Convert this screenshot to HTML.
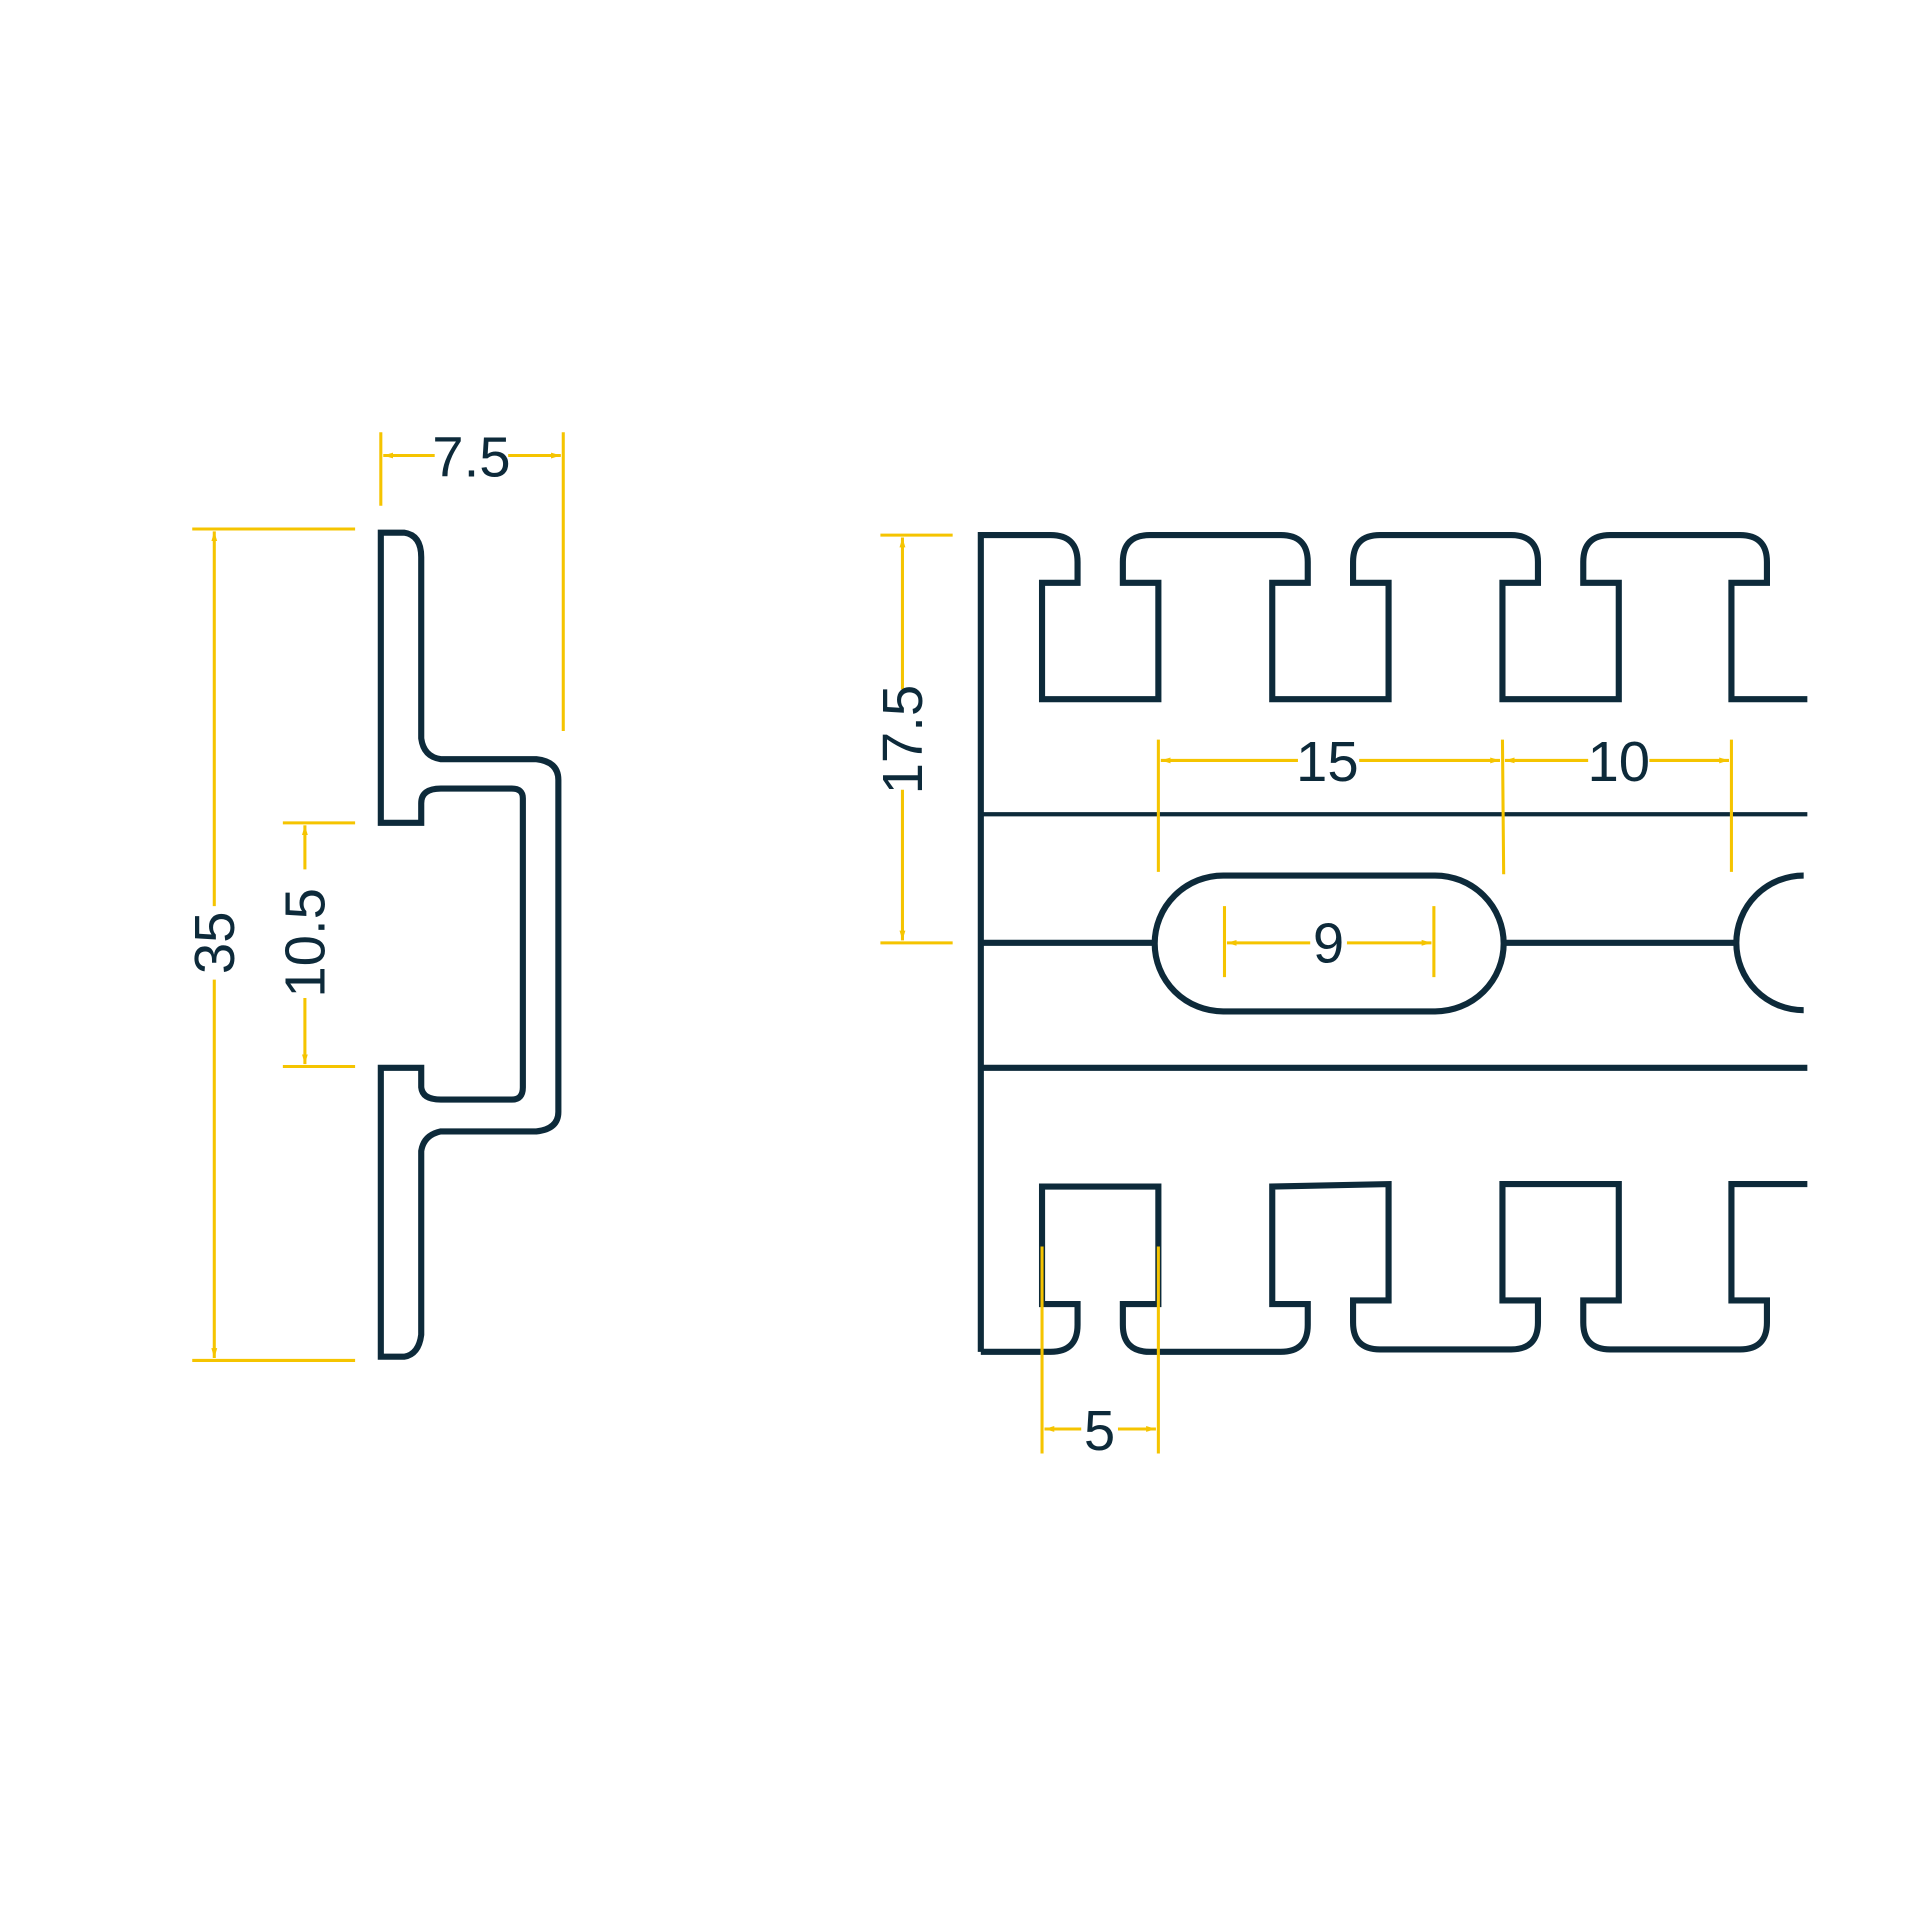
<!DOCTYPE html>
<html><head><meta charset="utf-8"><style>html,body{margin:0;padding:0;background:#fff}svg{display:block}</style></head><body>
<svg width="1920" height="1920" viewBox="0 0 1568 1568" xmlns="http://www.w3.org/2000/svg">
<defs>
<marker id="a" viewBox="0 0 10 10" refX="10" refY="5" markerWidth="8" markerHeight="8" orient="auto-start-reverse" markerUnits="userSpaceOnUse"><path d="M0,2 L10,5 L0,8 Z" fill="#f5c400"/></marker>
</defs>
<g fill="none" stroke="#0d2a3a" stroke-width="5" stroke-linejoin="miter">
<path d="M311,435 L330,435 Q344,437 344,455 L344,603 Q346,618 360,620 L438,620 Q456,622 456,637 L456,908 Q456,922 438,924 L360,924 Q346,927 344,940 L344,1090 Q342,1106 330,1108 L311,1108 L311,872 L344,872 L344,888 Q345,898 360,898 L418,898 Q427,898 427,888 L427,652 Q427,644 418,644 L360,644 Q344,644 344,656 L344,672 L311,672 Z"/>
<path d="M801,1104 L801,437 L858,437 Q880,437 880,459 L880,476 L851,476 L851,571 L946,571 L946,476 L917,476 L917,459 Q917,437 939,437 L1046,437 Q1068,437 1068,459 L1068,476 L1039,476 L1039,571 L1134,571 L1134,476 L1105,476 L1105,459 Q1105,437 1127,437 L1234,437 Q1256,437 1256,459 L1256,476 L1227,476 L1227,571 L1322,571 L1322,476 L1293,476 L1293,459 Q1293,437 1315,437 L1421,437 Q1443,437 1443,459 L1443,476 L1414,476 L1414,571 L1476,571"/>
<path d="M801,1104 L858,1104 Q880,1104 880,1082 L880,1065 L851,1065 L851,969 L946,969 L946,1065 L917,1065 L917,1082 Q917,1104 939,1104 L1046,1104 Q1068,1104 1068,1082 L1068,1065 L1039,1065 L1039,969 L1134,967 L1134,1062 L1105,1062 L1105,1080 Q1105,1102 1127,1102 L1234,1102 Q1256,1102 1256,1080 L1256,1062 L1227,1062 L1227,967 L1322,967 L1322,1062 L1293,1062 L1293,1080 Q1293,1102 1315,1102 L1421,1102 Q1443,1102 1443,1080 L1443,1062 L1414,1062 L1414,967 L1476,967"/>
<path d="M801,665 L1476,665" stroke-width="3.5"/>
<path d="M801,872 L1476,872"/>
<path d="M801,770 L943,770 M1228,770 L1416,770"/>
<rect x="943" y="715" width="285" height="111" rx="56"/>
<path d="M1473,715 A55,55 0 0 0 1473,825"/>
</g>
<g stroke="#f5c400" stroke-width="2.5" fill="none">
<path d="M157,432 L290,432 M157,1111 L290,1111 M231,672 L290,672 M231,871 L290,871 M311,353 L311,413 M460,353 L460,597 M719,437 L778,437 M719,770 L778,770 M946,604 L946,712 M1227,604 L1228,714 M1414,604 L1414,712 M1000,740 L1000,798 M1171,740 L1171,798 M851,1018 L851,1187 M946,1018 L946,1187"/>
<g marker-end="url(#a)">
<path d="M175,740 L175,434"/><path d="M175,800 L175,1109"/>
<path d="M249,710 L249,674"/><path d="M249,815 L249,869"/>
<path d="M355,372 L313,372"/><path d="M415,372 L458,372"/>
<path d="M737,563 L737,439"/><path d="M737,645 L737,768"/>
<path d="M1060,621 L948,621"/><path d="M1110,621 L1225,621"/>
<path d="M1297,621 L1229,621"/><path d="M1347,621 L1412,621"/>
<path d="M1070,770 L1002,770"/><path d="M1100,770 L1169,770"/>
<path d="M883,1167 L853,1167"/><path d="M913,1167 L944,1167"/>
</g>
</g>
<g fill="#0d2a3a" font-family="Liberation Sans, sans-serif" font-size="46" text-anchor="middle">
<text x="385" y="389">7.5</text>
<text x="1084" y="638">15</text>
<text x="1322" y="638">10</text>
<text x="1085" y="786">9</text>
<text x="898" y="1184">5</text>
<text transform="translate(191,770) rotate(-90)">35</text>
<text transform="translate(265,770) rotate(-90)">10.5</text>
<text transform="translate(753,604) rotate(-90)">17.5</text>
</g>
</svg>
</body></html>
